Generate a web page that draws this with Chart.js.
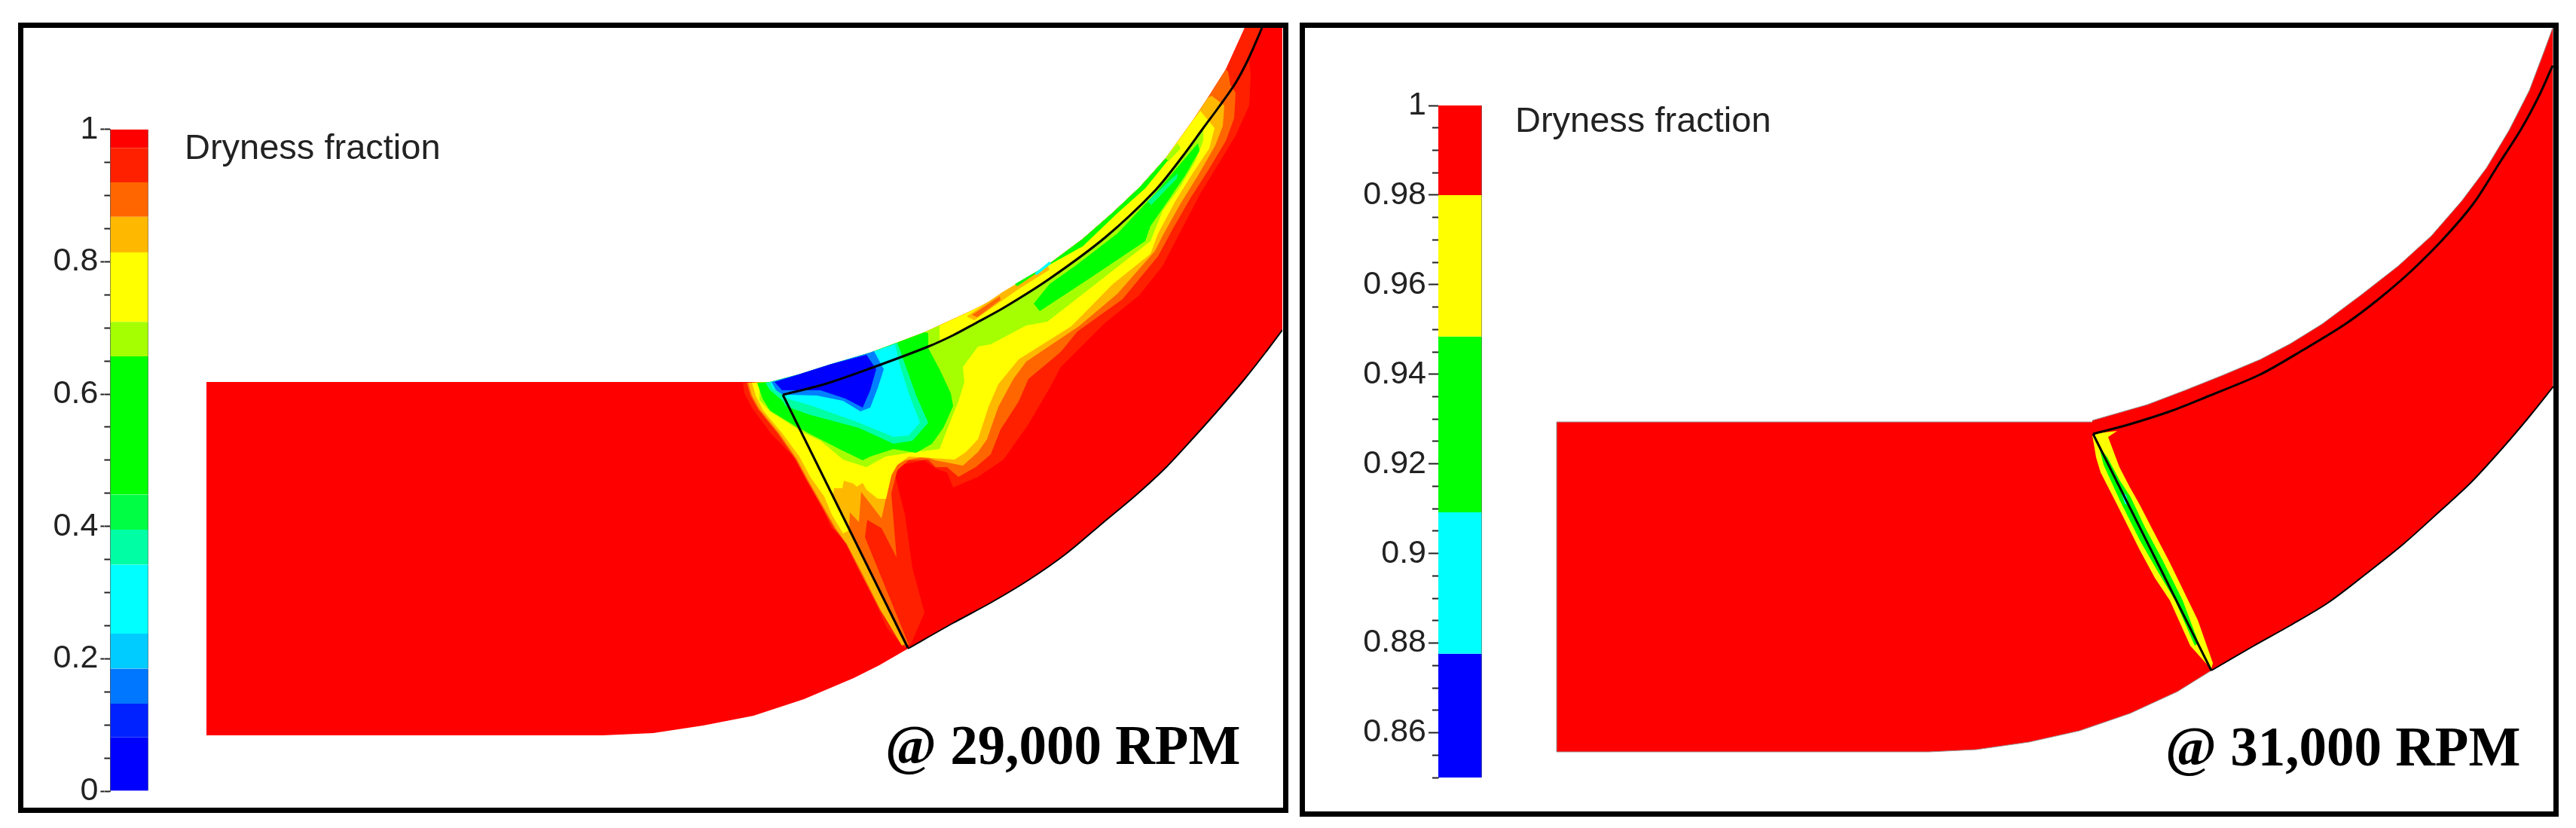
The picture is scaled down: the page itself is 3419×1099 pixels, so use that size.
<!DOCTYPE html>
<html>
<head>
<meta charset="utf-8">
<script src="https://cdn.jsdelivr.net/npm/chart.js@4"></script>
<style>
  html, body { margin: 0; background: #fff; }
  body { position: relative; width: 3419px; height: 1099px; overflow: hidden; }
  canvas { position: absolute; }
  .frame { position: absolute; box-sizing: border-box; border: 7px solid #000; }
</style>
</head>
<body>
<div class="frame" style="left:24px;top:30px;width:1686px;height:1049px"></div>
<div class="frame" style="left:1725px;top:30px;width:1671px;height:1054px"></div>
<canvas id="flow29" width="1671" height="1037" style="left:31px;top:37px"></canvas>
<canvas id="flow31" width="1657" height="1040" style="left:1732px;top:37px"></canvas>
<canvas id="bar29" width="160" height="950" style="left:37px;top:140px"></canvas>
<canvas id="bar31" width="230" height="980" style="left:1737px;top:108px"></canvas>
<script>
// colour scale, 29,000 RPM
const bandEdges29 = [0, 0.081, 0.132, 0.185, 0.238, 0.342, 0.395, 0.448, 0.657, 0.709, 0.814, 0.868, 0.92, 0.972, 1];
const bandColors29 = ['#0000ff', '#0022ff', '#0077ff', '#00ccff', '#00ffff', '#00ffa5', '#00ff44', '#00ff00', '#a5ff00', '#ffff00', '#ffb800', '#ff6600', '#ff2000', '#ff0000'];
const majorTicks29 = [0, 0.2, 0.4, 0.6, 0.8, 1];
const minorTicks29 = [0, 0.05, 0.1, 0.15, 0.2, 0.25, 0.3, 0.35, 0.4, 0.45, 0.5, 0.55, 0.6, 0.65, 0.7, 0.75, 0.8, 0.85, 0.9, 0.95, 1];

// colour scale, 31,000 RPM
const bandEdges31 = [0.85, 0.8776, 0.9092, 0.9484, 0.98, 1];
const bandColors31 = ['#0000ff', '#00ffff', '#00ff00', '#ffff00', '#ff0000'];
const majorTicks31 = [0.86, 0.88, 0.9, 0.92, 0.94, 0.96, 0.98, 1];
const minorTicks31 = [0.85, 0.855, 0.86, 0.865, 0.87, 0.875, 0.88, 0.885, 0.89, 0.895, 0.9, 0.905, 0.91, 0.915, 0.92, 0.925, 0.93, 0.935, 0.94, 0.945, 0.95, 0.955, 0.96, 0.965, 0.97, 0.975, 0.98, 0.985, 0.99, 0.995, 1];

const barTitle = 'Dryness fraction';
const rpmLabel29 = '@ 29,000 RPM';
const rpmLabel31 = '@ 31,000 RPM';

// geometry, x and y along the two image directions
const upperWall29 = [[1022,507],[1060,497],[1104,483],[1155,468],[1190,455],[1227,441],[1288,413],[1334,390],[1390,352],[1437,317],[1477,282],[1513,248],[1547,210],[1583,160],[1603,130],[1627,92],[1652,37]];
const lowerWall29 = [[1205,861],[1265,827],[1315,800],[1365,770],[1415,735],[1465,693],[1508,657],[1548,620],[1585,580],[1618,543],[1652,503],[1678,470],[1702,438]];
const inletFloor29 = [[1167,883],[1133,900],[1067,928],[1000,950],[933,963],[867,973],[800,976],[274,976],[274,507],[986,507]];
const bladeLine29 = [[1205,860],[1039,524]];
const arcLine29 = [[1039,524],[1094,510],[1155,489],[1232,460],[1265,445],[1293,430],[1333,408],[1393,370],[1467,315],[1533,253],[1570,207],[1597,170],[1617,143],[1640,110],[1657,78],[1675,37]];

// contour edges: each one starts and ends on the upper wall
const nearRedEdge = [[1675,37],[1658,80],[1660,100],[1658,140],[1640,180],[1620,213],[1593,257],[1567,307],[1543,353],[1512,392],[1465,430],[1408,487],[1392,517],[1365,563],[1332,610],[1298,633],[1265,647],[1257,627],[1242,622],[1227,611],[1196,617],[1188,631],[1201,683],[1211,754],[1227,813],[1209,855],[1201,860],[1177,833],[1150,773],[1120,715],[1103,700],[1087,663],[1067,617],[1047,600],[1023,575],[998,541],[988,522],[986,508]];
const orangeEdge = [[1630,95],[1633,113],[1640,123],[1638,157],[1627,187],[1603,227],[1580,263],[1557,303],[1537,340],[1490,397],[1430,440],[1408,467],[1365,503],[1352,533],[1328,570],[1315,603],[1295,620],[1272,633],[1257,620],[1242,620],[1232,610],[1206,611],[1191,624],[1183,655],[1190,740],[1170,701],[1151,690],[1148,713],[1170,767],[1197,833],[1206,855],[1202,859],[1168,810],[1142,760],[1123,722],[1107,701],[1091,673],[1071,638],[1056,610],[1032,575],[1006,543],[996,525],[991,508]];
const amberEdge = [[1608,127],[1625,140],[1623,167],[1613,193],[1590,233],[1567,270],[1543,313],[1533,333],[1483,390],[1432,433],[1362,480],[1345,503],[1325,540],[1310,583],[1298,600],[1278,618],[1242,611],[1227,606],[1201,611],[1186,620],[1178,652],[1170,688],[1143,653],[1140,693],[1128,680],[1127,704],[1201,855],[1197,857],[1169,810],[1144,760],[1124,722],[1109,701],[1093,673],[1073,638],[1058,610],[1034,575],[1008,543],[998,525],[993,508]];
const yellowEdge = [[1593,147],[1612,170],[1605,197],[1583,230],[1560,267],[1537,310],[1527,337],[1477,377],[1422,433],[1352,477],[1325,510],[1312,540],[1298,583],[1282,600],[1267,610],[1237,608],[1206,606],[1191,617],[1183,631],[1176,662],[1165,662],[1150,650],[1145,641],[1137,646],[1133,642],[1120,638],[1118,648],[1107,648],[1105,659],[1127,704],[1119,708],[1104,683],[1094,659],[1076,634],[1061,606],[1038,575],[1013,545],[1003,525],[998,508]];
const limeEdge = [[1247,432],[1247,453],[1265,445],[1293,430],[1333,408],[1393,370],[1467,315],[1533,253],[1570,207],[1597,170],[1597,187],[1587,213],[1567,247],[1543,280],[1527,320],[1467,367],[1390,427],[1362,432],[1315,457],[1298,460],[1278,487],[1280,507],[1272,533],[1265,550],[1247,596],[1206,601],[1175,606],[1150,620],[1119,610],[1089,585],[1068,575],[1061,571],[1022,546],[1008,531],[1008,508]];
const greenEdge = [[1232,442],[1232,462],[1247,490],[1262,522],[1265,539],[1252,568],[1237,589],[1216,601],[1186,596],[1155,606],[1145,611],[1114,596],[1073,575],[1066,571],[1058,567],[1022,545],[1012,529],[1005,508]];
const springEdge = [[1191,455],[1201,483],[1216,525],[1232,561],[1211,585],[1186,589],[1140,568],[1073,550],[1043,539],[1039,532],[1022,518],[1016,508]];
const cyanEdge = [[1188,457],[1193,480],[1206,522],[1221,561],[1206,578],[1186,580],[1140,561],[1079,539],[1045,529],[1039,524],[1025,515],[1022,507]];
const skyEdge = [[1160,466],[1173,490],[1165,515],[1155,541],[1142,546],[1119,532],[1084,525],[1048,524],[1039,524],[1030,518],[1024,507]];
const blueEdge = [[1150,471],[1163,490],[1155,518],[1145,541],[1122,529],[1089,518],[1058,518],[1038,518],[1028,507]];
const greenStripEdge = [[1550,213],[1520,250],[1483,283],[1437,327],[1390,353],[1350,380],[1347,377]];

// closed patches away from the wall
const greenBank = [[1590,190],[1592,200],[1573,233],[1543,277],[1527,300],[1520,320],[1450,367],[1380,413],[1372,403],[1393,377],[1427,353],[1483,310],[1533,257],[1567,217]];
const limeStrip = [[1547,210],[1563,190],[1567,197],[1550,215]];
const amberStreak = [[1283,420],[1330,388],[1390,352],[1393,358],[1350,385],[1293,425]];
const orangeStreak = [[1290,418],[1327,393],[1328,398],[1297,421]];
const springStreak = [[1523,267],[1563,230],[1562,237],[1528,272]];
const cyanFleck = [[1373,363],[1393,347],[1395,350],[1376,365]];

const upperWall31 = [[2777,558],[2850,537],[2900,518],[2950,498],[3000,477],[3040,456],[3082,430],[3133,392],[3183,353],[3227,313],[3267,267],[3300,223],[3330,173],[3357,120],[3377,67],[3388,37]];
const lowerWall31 = [[2935,890],[2990,858],[3040,830],[3090,800],[3140,762],[3190,722],[3240,677],[3280,640],[3323,593],[3357,553],[3389,513]];
const inletFloor31 = [[2890,918],[2827,947],[2760,970],[2693,985],[2623,995],[2560,998],[2066,998],[2066,560],[2777,560]];
const bladeLine31 = [[2935,890],[2778,576]];
const arcLine31 = [[2778,576],[2827,563],[2883,545],[2933,525],[3000,497],[3056,465],[3113,430],[3157,397],[3200,360],[3243,317],[3283,270],[3317,217],[3347,170],[3370,127],[3388,87]];
const yellowSliver31 = [[2777,578],[2780,595],[2782,607],[2788,627],[2810,670],[2840,730],[2860,767],[2880,797],[2907,857],[2932,885],[2935,888],[2937,880],[2917,823],[2880,747],[2857,703],[2840,670],[2827,647],[2813,620],[2798,580],[2810,572],[2783,575]];
const greenSliver31 = [[2786,593],[2792,617],[2813,663],[2840,717],[2863,757],[2887,797],[2913,857],[2918,853],[2897,797],[2870,743],[2847,700],[2828,660],[2813,637],[2797,607]];
const cyanSliver31 = [[2815,652],[2820,668],[2826,672],[2822,657]];

const toPoints = pts => pts.map(([x, y]) => ({ x, y }));

// wall stretch under a contour edge + the edge itself = closed region
function wallRegion(wall, edge) {
    const hi = edge[0][0];
    const lo = edge[edge.length - 1][0];
    return wall.filter(p => p[0] >= lo && p[0] <= hi).concat(edge);
}

const domain29 = [...upperWall29, [1702,37], ...lowerWall29.slice().reverse(), ...inletFloor29];
const layers29 = [
    [domain29, '#ff0000'],
    [wallRegion(upperWall29, nearRedEdge), '#ff2000'],
    [wallRegion(upperWall29, orangeEdge), '#ff6600'],
    [wallRegion(upperWall29, amberEdge), '#ffb800'],
    [wallRegion(upperWall29, yellowEdge), '#ffff00'],
    [amberStreak, '#ffb800'],
    [orangeStreak, '#ff6600'],
    [wallRegion(upperWall29, limeEdge), '#a5ff00'],
    [limeStrip, '#a5ff00'],
    [wallRegion(upperWall29, greenEdge), '#00ff00'],
    [greenBank, '#00ff00'],
    [wallRegion(upperWall29, greenStripEdge), '#00ff00'],
    [springStreak, '#00ff88'],
    [cyanFleck, '#00ffff'],
    [wallRegion(upperWall29, springEdge), '#00ffa5'],
    [wallRegion(upperWall29, cyanEdge), '#00ffff'],
    [wallRegion(upperWall29, skyEdge), '#0080ff'],
    [wallRegion(upperWall29, blueEdge), '#0000ff']
];

const domain31 = [...upperWall31, [3389,37], ...lowerWall31.slice().reverse(), ...inletFloor31];
const layers31 = [
    [domain31, '#ff0000', '#999'],
    [yellowSliver31, '#ffff00'],
    [greenSliver31, '#00ff00'],
    [cyanSliver31, '#00ffff']
];

// text inside a panel, placed through the chart's own scales
const panelText = {
    id: 'panelText',
    afterDatasetsDraw(chart, args, opts) {
        const { ctx, scales } = chart;
        ctx.save();
        opts.items.forEach(t => {
            ctx.font = t.font;
            ctx.fillStyle = t.color;
            ctx.fillText(t.text, scales.x.getPixelForValue(t.x), scales.y.getPixelForValue(t.y));
        });
        ctx.restore();
    }
};

function flowChart(id, xMin, xMax, yMin, yMax, layers, lines, items) {
    const fills = layers.map(([pts, color, edge], i) => ({
        data: toPoints(pts),
        showLine: true,
        fill: 'shape',
        backgroundColor: color,
        borderColor: edge || color,
        borderWidth: edge ? 1 : 0,
        pointRadius: 0,
        order: -i
    }));
    const strokes = lines.map(([pts, width, bend]) => ({
        data: toPoints(pts),
        showLine: true,
        fill: false,
        borderColor: '#000',
        borderWidth: width,
        pointRadius: 0,
        tension: bend,
        order: -100
    }));
    return new Chart(document.getElementById(id), {
        type: 'scatter',
        data: { datasets: fills.concat(strokes) },
        options: {
            responsive: false,
            animation: false,
            events: [],
            layout: { padding: 0 },
            plugins: { legend: { display: false }, tooltip: { enabled: false }, panelText: { items } },
            scales: {
                x: { type: 'linear', display: false, min: xMin, max: xMax },
                y: { type: 'linear', display: false, min: yMin, max: yMax, reverse: true }
            }
        },
        plugins: [panelText]
    });
}

function colorBar(id, edges, colors, majors, minors, axisWidth, pad) {
    const fromArray = arr => scale => { scale.ticks = arr.map(value => ({ value })); };
    const lo = edges[0], hi = edges[edges.length - 1];
    return new Chart(document.getElementById(id), {
        type: 'bar',
        data: {
            labels: [barTitle],
            datasets: colors.map((color, i) => ({
                data: [[edges[i], edges[i + 1]]],
                backgroundColor: color,
                borderColor: '#777',
                borderWidth: { left: 0, right: 1, top: 0, bottom: 0 },
                borderSkipped: false,
                barPercentage: 1,
                categoryPercentage: 1,
                grouped: false,
                yAxisID: 'yMinor'
            }))
        },
        options: {
            responsive: false,
            animation: false,
            events: [],
            layout: { padding: pad },
            plugins: { legend: { display: false }, tooltip: { enabled: false } },
            scales: {
                x: { display: false },
                yMinor: {
                    position: 'left', weight: 0, min: lo, max: hi,
                    afterBuildTicks: fromArray(minors),
                    ticks: { display: false, autoSkip: false },
                    grid: { drawOnChartArea: false, tickLength: 8, tickColor: '#222', tickWidth: 2 },
                    border: { display: true, color: '#555', width: 1 }
                },
                yMajor: {
                    position: 'left', weight: 1, min: lo, max: hi,
                    afterBuildTicks: fromArray(majors),
                    afterFit: s => { s.width = axisWidth; },
                    ticks: {
                        autoSkip: false, padding: 3, color: '#222',
                        font: { family: '"Liberation Sans"', size: 43 },
                        callback: v => String(+v.toFixed(2))
                    },
                    grid: { drawOnChartArea: false, tickLength: 5, tickColor: '#222', tickWidth: 2 },
                    border: { display: false }
                }
            }
        }
    });
}

const sansTitle = '47px "Liberation Sans"';
const serifBold = 'bold 73px "Liberation Serif"';

flowChart('flow29', 31, 1702, 37, 1074, layers29, [[bladeLine29, 3, 0], [arcLine29, 3, 0.3], [lowerWall29, 2, 0.3]], [
    { text: barTitle, x: 245, y: 211, font: sansTitle, color: '#222' },
    { text: rpmLabel29, x: 1175, y: 1014, font: serifBold, color: '#000' }
]);
flowChart('flow31', 1732, 3389, 37, 1077, layers31, [[bladeLine31, 3, 0], [arcLine31, 3, 0.3], [lowerWall31, 2, 0.3]], [
    { text: barTitle, x: 2011, y: 175, font: sansTitle, color: '#222' },
    { text: rpmLabel31, x: 2874, y: 1016, font: serifBold, color: '#000' }
]);

colorBar('bar29', bandEdges29, bandColors29, majorTicks29, minorTicks29, 101.4,
    { top: 31.7, bottom: 40, left: 0, right: 0 });
colorBar('bar31', bandEdges31, bandColors31, majorTicks31, minorTicks31, 164,
    { top: 32, bottom: 56, left: 0, right: 0 });
</script>
</body>
</html>
